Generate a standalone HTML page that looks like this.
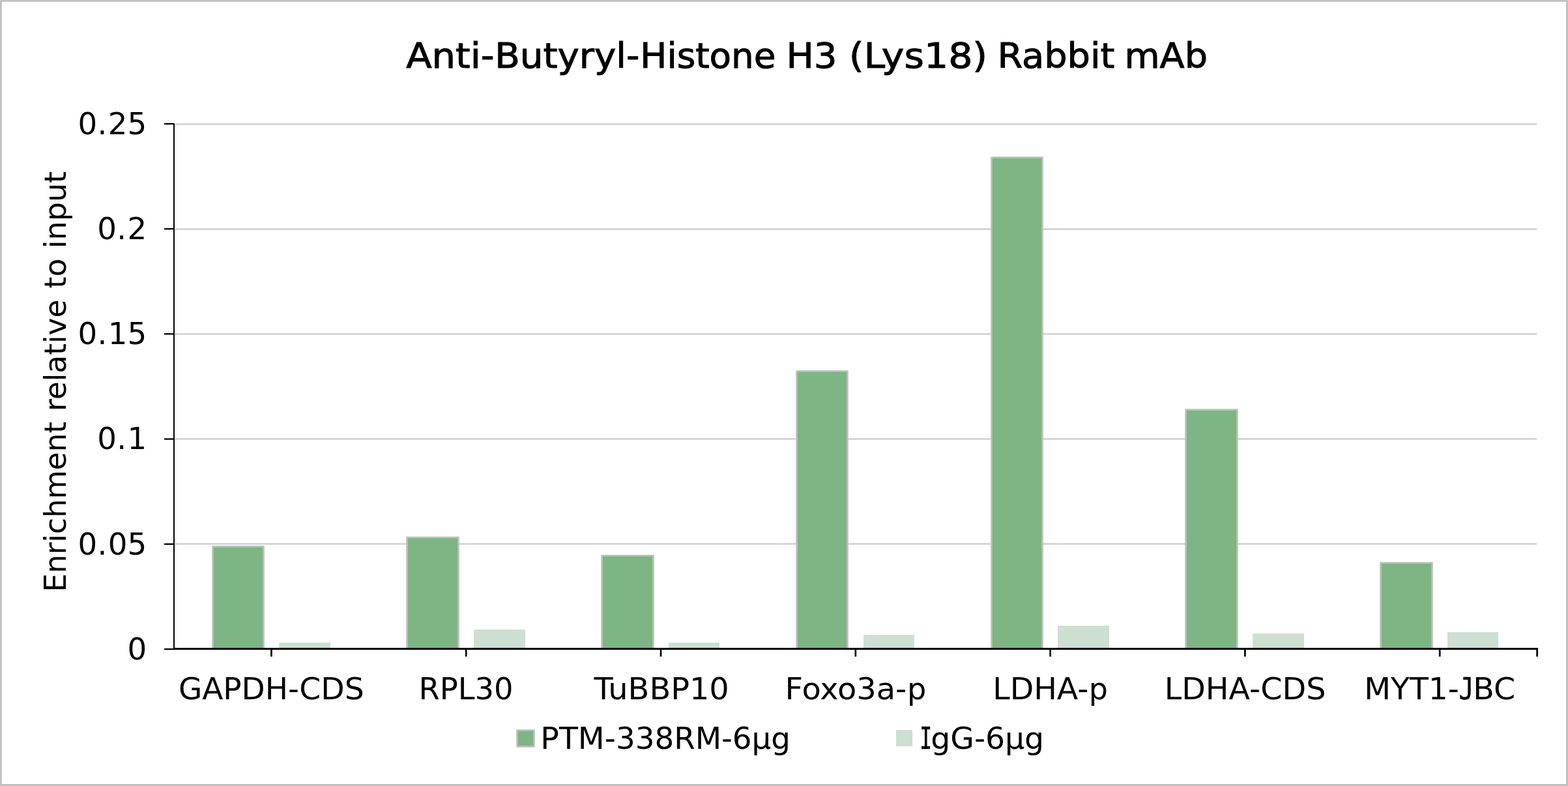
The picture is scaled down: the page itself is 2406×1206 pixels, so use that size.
<!DOCTYPE html>
<html lang="en"><head><meta charset="utf-8"><title>Anti-Butyryl-Histone H3 (Lys18) Rabbit mAb</title>
<style>
html,body{margin:0;padding:0;background:#fff;}
body{width:2406px;height:1206px;overflow:hidden;}
svg{display:block;}
text{font-family:'DejaVu Sans', 'Liberation Sans', sans-serif;fill:#000;white-space:pre;}
</style></head><body>
<svg width="2406" height="1206" viewBox="0 0 2406 1206">
<rect x="0" y="0" width="2406" height="1206" fill="#fff"/>
<!-- chart border -->
<path d="M1,0 H2406 V1205 L2405,1206 H0 V1 Z M2.75,2.75 V1203 H2403 V2.75 Z" fill="#c0c0c0" fill-rule="evenodd"/>
<!-- gridlines -->
<rect x="268" y="189.05" width="2090.20" height="2.9" fill="#d6d6d6"/>
<rect x="268" y="350.05" width="2090.20" height="2.9" fill="#d6d6d6"/>
<rect x="268" y="511.05" width="2090.20" height="2.9" fill="#d6d6d6"/>
<rect x="268" y="672.05" width="2090.20" height="2.9" fill="#d6d6d6"/>
<rect x="268" y="833.05" width="2090.20" height="2.9" fill="#d6d6d6"/>
<!-- bars -->
<rect x="326.50" y="838.50" width="78.00" height="157.00" fill="#7db584" stroke="#c0c0c0" stroke-width="2.67" stroke-linejoin="round"/>
<rect x="428" y="986" width="79" height="9" fill="#cddfd1"/>
<rect x="624.50" y="824.50" width="79.00" height="171.00" fill="#7db584" stroke="#c0c0c0" stroke-width="2.67" stroke-linejoin="round"/>
<rect x="727" y="966" width="79" height="29" fill="#cddfd1"/>
<rect x="923.50" y="852.50" width="79.00" height="143.00" fill="#7db584" stroke="#c0c0c0" stroke-width="2.67" stroke-linejoin="round"/>
<rect x="1026" y="986" width="78" height="9" fill="#cddfd1"/>
<rect x="1222.50" y="569.50" width="78.00" height="426.00" fill="#7db584" stroke="#c0c0c0" stroke-width="2.67" stroke-linejoin="round"/>
<rect x="1325" y="974" width="78" height="21" fill="#cddfd1"/>
<rect x="1521.50" y="241.50" width="78.00" height="754.00" fill="#7db584" stroke="#c0c0c0" stroke-width="2.67" stroke-linejoin="round"/>
<rect x="1623" y="960" width="79" height="35" fill="#cddfd1"/>
<rect x="1819.50" y="628.50" width="79.00" height="367.00" fill="#7db584" stroke="#c0c0c0" stroke-width="2.67" stroke-linejoin="round"/>
<rect x="1922" y="972" width="79" height="23" fill="#cddfd1"/>
<rect x="2118.50" y="863.50" width="79.00" height="132.00" fill="#7db584" stroke="#c0c0c0" stroke-width="2.67" stroke-linejoin="round"/>
<rect x="2221" y="970" width="78" height="25" fill="#cddfd1"/>
<!-- axes -->
<rect x="266" y="189.5" width="2" height="807.50" fill="#000"/>
<rect x="266" y="994" width="2094.00" height="3" fill="#000"/>
<rect x="252" y="188.85" width="15" height="2.3" fill="#000"/>
<rect x="252" y="350.05" width="15" height="2.3" fill="#000"/>
<rect x="252" y="511.25" width="15" height="2.3" fill="#000"/>
<rect x="252" y="672.45" width="15" height="2.3" fill="#000"/>
<rect x="252" y="833.65" width="15" height="2.3" fill="#000"/>
<rect x="252" y="994.85" width="15" height="2.3" fill="#000"/>
<rect x="415.06" y="995" width="2.67" height="12.5" fill="#000"/>
<rect x="713.87" y="995" width="2.67" height="12.5" fill="#000"/>
<rect x="1012.66" y="995" width="2.67" height="12.5" fill="#000"/>
<rect x="1311.46" y="995" width="2.67" height="12.5" fill="#000"/>
<rect x="1610.27" y="995" width="2.67" height="12.5" fill="#000"/>
<rect x="1909.07" y="995" width="2.67" height="12.5" fill="#000"/>
<rect x="2207.86" y="995" width="2.67" height="12.5" fill="#000"/>
<rect x="2357.3" y="995" width="2.67" height="12.5" fill="#000"/>
<!-- value axis labels -->
<text x="225.1" y="205.80" font-size="46.67" text-anchor="end" dx="0 0.4 1.3">0.25</text>
<text x="225.1" y="367.00" font-size="46.67" text-anchor="end" dx="0 0.4 1.3">0.2</text>
<text x="225.1" y="528.20" font-size="46.67" text-anchor="end" dx="0 0.4 1.3">0.15</text>
<text x="225.1" y="689.40" font-size="46.67" text-anchor="end" dx="0 0.4 1.3">0.1</text>
<text x="225.1" y="850.60" font-size="46.67" text-anchor="end" dx="0 0.4 1.3">0.05</text>
<text x="225.1" y="1011.80" font-size="46.67" text-anchor="end">0</text>
<!-- titles, category labels, legend -->
<text font-size="53.70" stroke="#000" stroke-width="1.00"><tspan x="623.23" y="104.45" textLength="135.26" lengthAdjust="spacingAndGlyphs">Anti-</tspan><tspan x="759.23" y="104.45" textLength="222.04" lengthAdjust="spacingAndGlyphs">Butyryl-</tspan><tspan x="982.35" y="104.45" textLength="208.07" lengthAdjust="spacingAndGlyphs">Histone</tspan> <tspan x="1206.50" y="104.45" textLength="77.99" lengthAdjust="spacingAndGlyphs">H3</tspan> <tspan x="1302.75" y="104.45" textLength="212.46" lengthAdjust="spacingAndGlyphs">(Lys18)</tspan> <tspan x="1530.53" y="104.45" textLength="179.76" lengthAdjust="spacingAndGlyphs">Rabbit</tspan> <tspan x="1725.42" y="104.45" textLength="127.54" lengthAdjust="spacingAndGlyphs">mAb</tspan></text>
<text font-size="46.67" transform="translate(101.40,0) rotate(-90)"><tspan x="-908.47" y="0.00" textLength="261.63" lengthAdjust="spacingAndGlyphs">Enrichment</tspan> <tspan x="-630.95" y="0.00" textLength="171.33" lengthAdjust="spacingAndGlyphs">relative</tspan> <tspan x="-442.50" y="0.00" textLength="45.84" lengthAdjust="spacingAndGlyphs">to</tspan> <tspan x="-381.18" y="0.00" textLength="118.30" lengthAdjust="spacingAndGlyphs">input</tspan></text>
<text font-size="46.67"><tspan x="273.90" y="1072.70" textLength="184.98" lengthAdjust="spacingAndGlyphs">GAPDH-</tspan><tspan x="459.35" y="1072.70" textLength="99.38" lengthAdjust="spacingAndGlyphs">CDS</tspan></text>
<text font-size="46.67"><tspan x="642.54" y="1072.70" textLength="145.10" lengthAdjust="spacingAndGlyphs">RPL30</tspan></text>
<text font-size="46.67"><tspan x="911.41" y="1072.70" textLength="207.36" lengthAdjust="spacingAndGlyphs">TuBBP10</tspan></text>
<text font-size="46.67"><tspan x="1204.60" y="1072.70" textLength="186.67" lengthAdjust="spacingAndGlyphs">Foxo3a-</tspan><tspan x="1391.92" y="1072.70" textLength="29.28" lengthAdjust="spacingAndGlyphs">p</tspan></text>
<text font-size="46.67"><tspan x="1523.34" y="1072.70" textLength="146.95" lengthAdjust="spacingAndGlyphs">LDHA-</tspan><tspan x="1670.78" y="1072.70" textLength="29.13" lengthAdjust="spacingAndGlyphs">p</tspan></text>
<text font-size="46.67"><tspan x="1786.85" y="1072.70" textLength="147.32" lengthAdjust="spacingAndGlyphs">LDHA-</tspan><tspan x="1934.15" y="1072.70" textLength="100.35" lengthAdjust="spacingAndGlyphs">CDS</tspan></text>
<text font-size="46.67"><tspan x="2093.27" y="1072.70" textLength="145.64" lengthAdjust="spacingAndGlyphs">MYT1-</tspan><tspan x="2238.41" y="1072.70" style="font-family:'DejaVu Sans Mono', 'Liberation Mono', monospace" stroke="#000" stroke-width="0.50" textLength="23.05" lengthAdjust="spacingAndGlyphs">J</tspan><tspan x="2260.15" y="1072.70" textLength="65.02" lengthAdjust="spacingAndGlyphs">BC</tspan></text>
<rect x="793.5" y="1120.5" width="26" height="25" fill="#7db584" stroke="#c0c0c0" stroke-width="2.67" stroke-linejoin="round"/>
<text font-size="46.67"><tspan x="829.38" y="1148.70" textLength="115.43" lengthAdjust="spacingAndGlyphs">PTM-</tspan><tspan x="944.96" y="1148.70" textLength="178.93" lengthAdjust="spacingAndGlyphs">338RM-</tspan><tspan x="1123.83" y="1148.70" textLength="89.10" lengthAdjust="spacingAndGlyphs">6µg</tspan></text>
<rect x="1375" y="1120" width="25" height="25" fill="#cddfd1"/>
<text font-size="46.67"><tspan x="1411.22" y="1148.70" style="font-family:'DejaVu Sans Mono', 'Liberation Mono', monospace" stroke="#000" stroke-width="0.70" textLength="18.78" lengthAdjust="spacingAndGlyphs">I</tspan><tspan x="1428.33" y="1148.70" textLength="173.75" lengthAdjust="spacingAndGlyphs">gG-6µg</tspan></text>
</svg></body></html>
